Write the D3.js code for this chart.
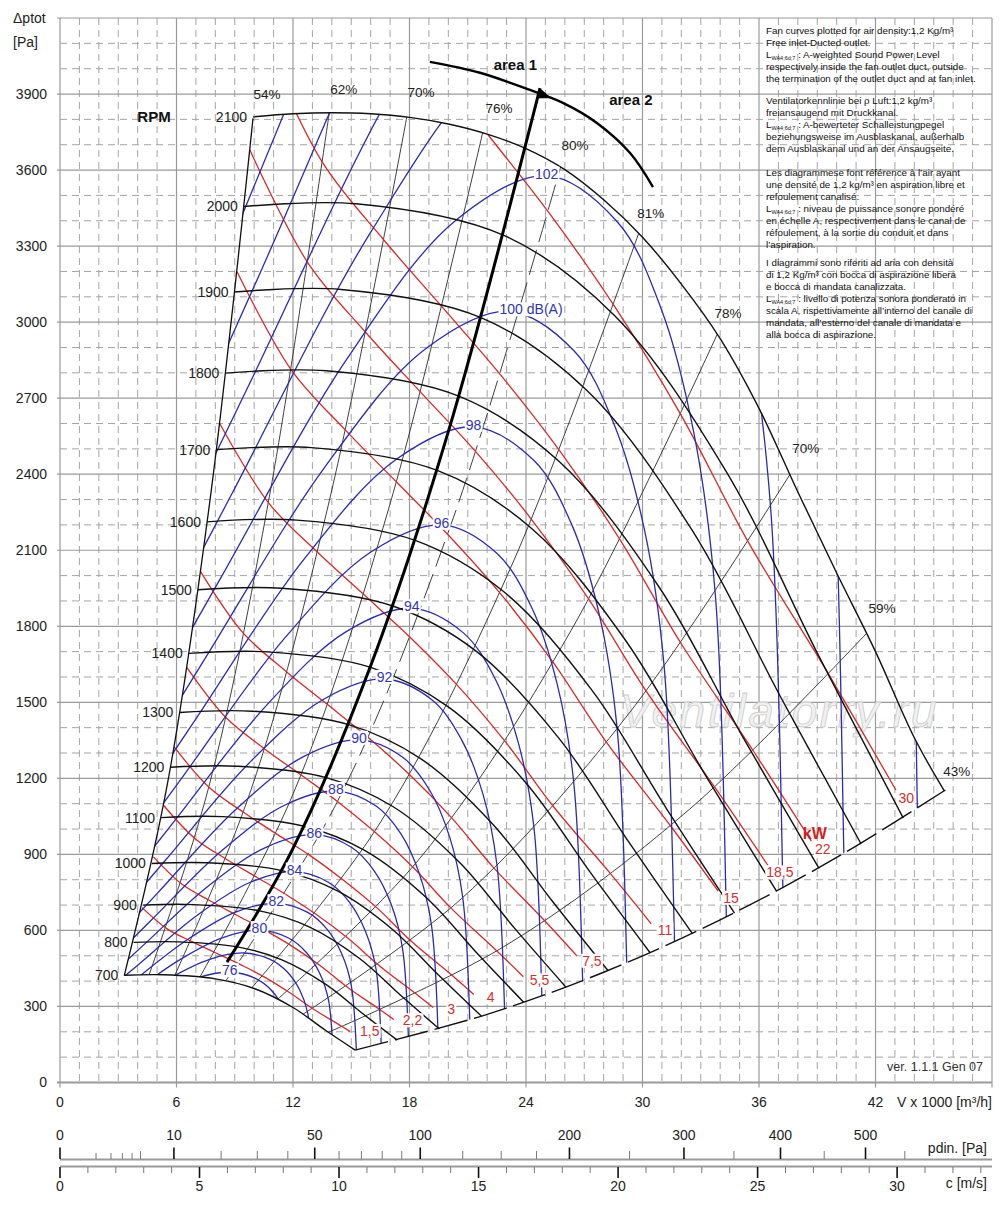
<!DOCTYPE html>
<html>
<head>
<meta charset="utf-8">
<script src="https://cdn.jsdelivr.net/npm/d3@7.9.0/dist/d3.min.js"></script>
<style>
  body { margin: 0; background: #fff; }
  svg text { font-family: "Liberation Sans", Arial, sans-serif; }
</style>
</head>
<body>
<svg id="chart" width="1000" height="1228"></svg>
<script>
// ---- values (V in 1000 m3/h, p in Pa) ----
const xTicks = [0, 6, 12, 18, 24, 30, 36, 42];
const yTicks = [0, 300, 600, 900, 1200, 1500, 1800, 2100, 2400, 2700, 3000, 3300, 3600, 3900];
const pdinMajor = [0, 10, 50, 100, 200, 300, 400, 500];
const pdinMinor = [1, 2, 3, 4, 5, 20, 30, 40, 60, 70, 80, 90, 125, 150, 175, 250, 350, 450, 550];
const cMajor = [0, 5, 10, 15, 20, 25, 30];
const cMinor = [1, 2, 3, 4, 6, 7, 8, 9, 11, 12, 13, 14, 16, 17, 18, 19, 21, 22, 23, 24, 26, 27, 28, 29, 31, 32, 33];

const rpmLabels = [700, 800, 900, 1000, 1100, 1200, 1300, 1400, 1500, 1600, 1700, 1800, 1900, 2000, 2100];
const rpmCurves = [
  [[3.31, 423], [5.33, 425], [8.00, 409], [10.00, 371], [12.00, 296], [13.67, 206], [15.20, 128]],
  [[3.79, 553], [6.10, 555], [9.14, 535], [11.43, 484], [13.71, 386], [15.62, 270], [17.37, 167]],
  [[4.26, 700], [6.86, 702], [10.29, 677], [12.86, 613], [15.43, 489], [17.57, 342], [19.54, 211]],
  [[4.73, 864], [7.62, 867], [11.43, 836], [14.29, 756], [17.14, 603], [19.52, 422], [21.71, 261]],
  [[5.21, 1045], [8.38, 1049], [12.57, 1011], [15.71, 915], [18.86, 730], [21.48, 510], [23.89, 316]],
  [[5.68, 1244], [9.14, 1248], [13.71, 1203], [17.14, 1089], [20.57, 869], [23.43, 607], [26.06, 376]],
  [[6.15, 1460], [9.90, 1465], [14.86, 1412], [18.57, 1278], [22.29, 1019], [25.38, 713], [28.23, 441]],
  [[6.63, 1693], [10.67, 1699], [16.00, 1638], [20.00, 1482], [24.00, 1182], [27.33, 827], [30.40, 511]],
  [[7.10, 1944], [11.43, 1950], [17.14, 1880], [21.43, 1702], [25.71, 1357], [29.29, 949], [32.57, 587]],
  [[7.57, 2212], [12.19, 2219], [18.29, 2139], [22.86, 1936], [27.43, 1544], [31.24, 1080], [34.74, 668]],
  [[8.05, 2497], [12.95, 2505], [19.43, 2415], [24.29, 2186], [29.14, 1743], [33.19, 1219], [36.91, 754]],
  [[8.52, 2799], [13.71, 2808], [20.57, 2707], [25.71, 2450], [30.86, 1954], [35.14, 1367], [39.09, 845]],
  [[8.99, 3119], [14.48, 3129], [21.71, 3017], [27.14, 2730], [32.57, 2177], [37.10, 1523], [41.26, 941]],
  [[9.47, 3456], [15.24, 3467], [22.86, 3342], [28.57, 3025], [34.29, 2413], [39.05, 1687], [43.43, 1043]],
  [[9.94, 3810], [12, 3822], [14, 3826], [16, 3822], [18, 3808], [20, 3782], [22, 3742], [24, 3685], [26, 3602],
   [28, 3483], [30, 3335], [32, 3150], [34, 2935], [36, 2660], [38, 2330], [40, 2010], [42, 1700], [44, 1360], [45.55, 1150]]
];

// efficiency (system) lines, left boundary first, lower boundary last
const effLabels = ['54%', '62%', '70%', '76%', '80%', '81%', '78%', '70%', '59%', '43%'];
const effLabelPos = [[10.66, 3900], [14.62, 3920], [18.59, 3908], [22.61, 3845], [26.52, 3699],
  [30.43, 3430], [34.40, 3036], [38.41, 2503], [42.33, 1872], [46.19, 1229]];
const effLines = [
  [[3.31, 422], [5.50, 1165], [7.70, 2283], [9.94, 3804]],
  [[4.43, 390], [7.62, 1154], [10.80, 2319], [13.99, 3891]],
  [[5.72, 390], [9.83, 1153], [13.94, 2318], [18.05, 3887]],
  [[6.97, 384], [11.98, 1134], [16.99, 2281], [22.00, 3824]],
  [[8.26, 370], [14.19, 1094], [20.12, 2198], [26.06, 3688]],
  [[9.51, 341], [16.34, 1007], [23.17, 2024], [30.01, 3395]],
  [[10.79, 300], [18.55, 886], [26.31, 1782], [34.07, 2989]],
  [[12.03, 245], [20.67, 725], [29.32, 1458], [37.97, 2445]],
  [[13.30, 181], [22.86, 536], [32.42, 1078], [41.98, 1808]],
  [[15.20, 128], [22, 269], [28, 435], [34, 642], [40, 888], [45.6, 1154]]
];

// shaft power lines
const kwLabels = ['1,5', '2,2', '3', '4', '5,5', '7,5', '11', '15', '18,5', '22', '30'];
const kwLines = [
  [[4.23, 690], [5.52, 606], [6.82, 555], [8.04, 511], [9.27, 466], [10.51, 417], [11.78, 357], [13.06, 289], [14.59, 218], [16.11, 144]],
  [[4.81, 890], [6.27, 783], [7.75, 716], [9.13, 659], [10.53, 602], [11.94, 538], [13.39, 462], [14.84, 374], [16.58, 282], [18.31, 186]],
  [[5.33, 1094], [6.96, 962], [8.59, 880], [10.13, 810], [11.67, 740], [13.24, 661], [14.85, 568], [16.46, 460], [18.38, 347], [20.30, 229]],
  [[5.87, 1325], [7.66, 1166], [9.45, 1066], [11.15, 981], [12.85, 897], [14.57, 800], [16.34, 688], [18.11, 556], [20.23, 420], [22.34, 277]],
  [[6.52, 1639], [8.52, 1442], [10.51, 1318], [12.40, 1214], [14.29, 1109], [16.20, 989], [18.17, 850], [20.14, 688], [22.50, 519], [24.85, 343]],
  [[7.24, 2016], [9.44, 1773], [11.66, 1621], [13.75, 1493], [15.84, 1363], [17.97, 1217], [20.15, 1046], [22.34, 847], [24.95, 639], [27.55, 421]],
  [[8.22, 2601], [10.73, 2288], [13.25, 2093], [15.62, 1927], [18.00, 1759], [20.42, 1571], [22.89, 1349], [25.38, 1092], [28.35, 824], [31.31, 544]],
  [[9.12, 3199], [11.90, 2813], [14.69, 2575], [17.32, 2370], [19.96, 2163], [22.64, 1933], [25.39, 1659], [28.14, 1343], [31.43, 1014], [34.71, 669]],
  [[9.78, 3679], [12.76, 3235], [15.75, 2959], [18.57, 2724], [21.41, 2489], [24.28, 2222], [27.22, 1908], [30.18, 1545], [33.71, 1166], [37.23, 769]],
  [[10.36, 4129], [13.51, 3631], [16.69, 3323], [19.68, 3060], [22.68, 2793], [25.72, 2494], [28.84, 2142], [31.97, 1734], [35.71, 1308], [39.44, 863]],
  [[11.49, 5078], [14.99, 4467], [18.51, 4085], [21.82, 3761], [25.15, 3435], [28.52, 3067], [31.98, 2634], [35.45, 2132], [39.60, 1609], [43.74, 1062]]
];

// sound power lines dB(A); peak is the 5th point
const dbLevels = [76, 78, 80, 82, 84, 86, 88, 90, 92, 94, 96, 98, 100, 102, 104, 106, 108, 110];
const dbLabels = ['76', '', '80', '82', '84', '86', '88', '90', '92', '94', '96', '98', '100 dB(A)', '102', '', '', '', ''];
const dbLines = [
  [[1.33, 169], [2.85, 240], [5.15, 347], [7.11, 414], [8.74, 435], [10.01, 413], [10.80, 371], [11.38, 311], [11.76, 235], [11.96, 83], [11.99, 18]],
  [[1.45, 199], [3.09, 282], [5.58, 408], [7.71, 486], [9.47, 511], [10.85, 485], [11.71, 436], [12.34, 366], [12.75, 277], [12.97, 97], [13.00, 21]],
  [[1.57, 234], [3.35, 332], [6.05, 479], [8.36, 571], [10.27, 601], [11.77, 570], [12.69, 513], [13.38, 430], [13.83, 325], [14.06, 114], [14.09, 25]],
  [[1.70, 275], [3.63, 391], [6.57, 564], [9.07, 673], [11.14, 707], [12.76, 671], [13.77, 603], [14.52, 506], [15.00, 383], [15.26, 135], [15.29, 29]],
  [[1.84, 323], [3.94, 459], [7.12, 663], [9.83, 791], [12.08, 832], [13.84, 789], [14.93, 709], [15.74, 595], [16.27, 450], [16.54, 158], [16.58, 34]],
  [[2.00, 380], [4.27, 540], [7.72, 780], [10.66, 930], [13.10, 978], [15.01, 928], [16.19, 834], [17.07, 700], [17.64, 529], [17.94, 186], [17.98, 40]],
  [[2.17, 447], [4.63, 635], [8.37, 917], [11.56, 1094], [14.21, 1150], [16.28, 1091], [17.56, 981], [18.51, 823], [19.13, 622], [19.46, 219], [19.50, 47]],
  [[2.35, 525], [5.02, 747], [9.08, 1079], [12.54, 1286], [15.40, 1352], [17.65, 1283], [19.04, 1153], [20.07, 968], [20.74, 731], [21.10, 257], [21.14, 55]],
  [[2.55, 618], [5.45, 879], [9.85, 1269], [13.60, 1513], [16.71, 1592], [19.15, 1510], [20.65, 1357], [21.78, 1139], [22.50, 861], [22.89, 303], [22.94, 65]],
  [[2.77, 727], [5.91, 1033], [10.68, 1492], [14.74, 1779], [18.12, 1871], [20.76, 1775], [22.39, 1596], [23.61, 1339], [24.40, 1012], [24.81, 356], [24.87, 77]],
  [[3.00, 855], [6.40, 1215], [11.58, 1754], [15.99, 2092], [19.65, 2200], [22.51, 2087], [24.28, 1876], [25.60, 1574], [26.45, 1190], [26.91, 418], [26.96, 90]],
  [[3.25, 1005], [6.94, 1428], [12.55, 2063], [17.34, 2460], [21.30, 2587], [24.41, 2454], [26.33, 2206], [27.76, 1851], [28.69, 1399], [29.18, 492], [29.24, 106]],
  [[3.53, 1182], [7.53, 1680], [13.62, 2426], [18.80, 2893], [23.10, 3042], [26.47, 2887], [28.55, 2594], [30.11, 2177], [31.11, 1646], [31.64, 579], [31.71, 124]],
  [[3.83, 1390], [8.17, 1976], [14.77, 2854], [20.39, 3402], [25.06, 3578], [28.71, 3395], [30.97, 3051], [32.65, 2561], [33.74, 1935], [34.31, 680], [34.39, 146]],
  [[4.15, 1635], [8.86, 2324], [16.02, 3357], [22.11, 4002], [27.18, 4209], [31.14, 3994], [33.59, 3589], [35.41, 3013], [36.59, 2277], [37.22, 800], [37.30, 172]],
  [[4.50, 1923], [9.61, 2733], [17.37, 3948], [23.98, 4707], [29.47, 4950], [33.77, 4697], [36.42, 4221], [38.40, 3543], [39.68, 2677], [40.36, 941], [40.45, 202]],
  [[4.88, 2261], [10.42, 3214], [18.83, 4642], [26.01, 5535], [31.96, 5820], [36.62, 5523], [39.49, 4963], [41.64, 4166], [43.40, 3148], [44.15, 1107], [44.25, 238]],
  [[5.29, 2659], [11.30, 3779], [20.42, 5459], [28.20, 6509], [34.66, 6845], [39.71, 6495], [42.83, 5837], [45.16, 4899], [46.67, 3702], [47.46, 1302], [47.57, 280]]
];

// area 1 / area 2 divider and its arrow arc
const areaDivider = [[8.6, 475], [12, 924], [16, 1644], [20, 2568], [24.72, 3923]];
const areaArc = [[19.05, 4027], [21.63, 3984], [24.2, 3916], [25.9, 3865], [27.65, 3786], [29.35, 3668], [30.54, 3533]];

const notes = [
  ['Fan curves plotted for air density:1,2 Kg/m³', 'Free inlet-Ducted outlet.', '§ : A-weighted Sound Power Level',
   'respectively inside the fan outlet duct, outside', 'the termination of the outlet duct and at fan inlet.'],
  ['Ventilatorkennlinie bei ρ Luft:1,2 kg/m³', 'freiansaugend mit Druckkanal.', '§ : A-bewerteter Schalleistungpegel',
   'beziehungsweise im Ausblaskanal, außerhalb', 'dem Ausblaskanal und an der Ansaugseite.'],
  ['Les diagrammese font référence à l’air ayant', 'une densité de 1,2 kg/m³ en aspiration libre et', 'refoulement canalisé.',
   '§ : niveau de puissance sonore pondéré', 'en échelle A, respectivement dans le canal de',
   'réfoulement, à la sortie du conduit et dans', 'l’aspiration.'],
  ['I diagrammi sono riferiti ad aria con densità', 'di 1,2 Kg/m³ con bocca di aspirazione libera', 'e bocca di mandata canalizzata.',
   '§ : livello di potenza sonora ponderato in', 'scala A, rispettivamente all’interno del canale di',
   'mandata, all’esterno del canale di mandata e', 'alla bocca di aspirazione.']
];
const noteTops = [30, 100, 172, 262];

// ---- scales ----
const x = d3.scaleLinear().domain([0, 48]).range([60, 992]);
const y = d3.scaleLinear().domain([0, 4200]).range([1082.5, 18]);
const cScale = d3.scaleLinear().domain([0, 33.4]).range([60, 992]);
const pdinScale = d3.scaleSqrt().domain([0, 0.6 * 33.4 * 33.4]).range([60, 992]);

const svg = d3.select('#chart');
const line = d3.line().x(d => x(d[0])).y(d => y(d[1])).curve(d3.curveCatmullRom.alpha(0.5));

// ---- grid ----
const grid = svg.append('g');
d3.range(0, 49).forEach(v => {
  const major = v % 6 === 0;
  grid.append('line')
    .attr('x1', x(v)).attr('x2', x(v))
    .attr('y1', y(4200)).attr('y2', major ? y(0) + 5 : y(0))
    .attr('stroke', major ? '#9a9a9a' : '#a4a4a4')
    .attr('stroke-width', major ? 1.2 : 1)
    .attr('stroke-dasharray', major ? null : '7,5');
});
d3.range(0, 4201, 100).forEach(v => {
  const major = v % 300 === 0 || v === 4200;
  grid.append('line')
    .attr('x1', major ? x(0) - 3 : x(0)).attr('x2', x(48))
    .attr('y1', y(v)).attr('y2', y(v))
    .attr('stroke', major ? '#9a9a9a' : '#a4a4a4')
    .attr('stroke-width', v === 0 ? 2 : (major ? 1.2 : 1))
    .attr('stroke-dasharray', major ? null : '7,5');
});

// axis labels
const axisText = svg.append('g').attr('font-size', 14).attr('fill', '#222');
yTicks.forEach(v => {
  axisText.append('text').attr('x', 47).attr('y', y(v)).attr('dy', '0.35em')
    .attr('text-anchor', 'end').text(v);
});
xTicks.forEach(v => {
  axisText.append('text').attr('x', x(v)).attr('y', 1107).attr('text-anchor', 'middle').text(v);
});
axisText.append('text').attr('x', 992).attr('y', 1107).attr('text-anchor', 'end').text('V x 1000 [m³/h]');
axisText.append('text').attr('x', 13).attr('y', 23).text('Δptot');
axisText.append('text').attr('x', 13).attr('y', 47).text('[Pa]');

// pdin and velocity scales
const bottom = svg.append('g');
bottom.append('line').attr('x1', 60).attr('x2', 992).attr('y1', 1159.5).attr('y2', 1159.5)
  .attr('stroke', '#9a9a9a').attr('stroke-width', 2);
bottom.append('line').attr('x1', 60).attr('x2', 992).attr('y1', 1166.5).attr('y2', 1166.5)
  .attr('stroke', '#9a9a9a').attr('stroke-width', 2);
pdinMinor.forEach(v => {
  bottom.append('line').attr('x1', pdinScale(v)).attr('x2', pdinScale(v))
    .attr('y1', v < 5 ? 1153 : 1151).attr('y2', 1159).attr('stroke', '#777').attr('stroke-width', 1);
});
pdinMajor.forEach(v => {
  bottom.append('line').attr('x1', pdinScale(v)).attr('x2', pdinScale(v))
    .attr('y1', 1147.5).attr('y2', 1159).attr('stroke', '#111').attr('stroke-width', 1.6);
  bottom.append('text').attr('x', pdinScale(v)).attr('y', 1140).attr('text-anchor', 'middle')
    .attr('font-size', 14).attr('fill', '#222').text(v);
});
cMinor.forEach(v => {
  bottom.append('line').attr('x1', cScale(v)).attr('x2', cScale(v))
    .attr('y1', 1167).attr('y2', 1173).attr('stroke', '#777').attr('stroke-width', 1);
});
cMajor.forEach(v => {
  bottom.append('line').attr('x1', cScale(v)).attr('x2', cScale(v))
    .attr('y1', 1167).attr('y2', 1178).attr('stroke', '#111').attr('stroke-width', 1.6);
  bottom.append('text').attr('x', cScale(v)).attr('y', 1191).attr('text-anchor', 'middle')
    .attr('font-size', 14).attr('fill', '#222').text(v);
});
bottom.append('text').attr('x', 987).attr('y', 1153).attr('text-anchor', 'end')
  .attr('font-size', 14).attr('fill', '#222').text('pdin. [Pa]');
bottom.append('text').attr('x', 987).attr('y', 1188).attr('text-anchor', 'end')
  .attr('font-size', 14).attr('fill', '#222').text('c [m/s]');

// ---- notes block ----
const notesG = svg.append('g').attr('font-size', 9.8).attr('fill', '#111');
notes.forEach((para, pi) => {
  para.forEach((txt, li) => {
    const t = notesG.append('text').attr('x', 766).attr('y', noteTops[pi] + 3.5 + li * 12);
    if (txt.startsWith('§')) {
      t.append('tspan').text('L');
      t.append('tspan').attr('font-size', 5.5).attr('dy', 2).text('WA4;6d;7');
      t.append('tspan').attr('dy', -2).text(txt.slice(1));
    } else {
      t.text(txt);
    }
  });
});
svg.append('text').attr('x', 983).attr('y', 1071).attr('text-anchor', 'end')
  .attr('font-size', 12.5).attr('fill', '#333').text('ver. 1.1.1 Gen 07');

// watermark
svg.append('text').attr('x', 620).attr('y', 727).attr('font-size', 46).attr('font-style', 'italic')
  .attr('letter-spacing', 2.5).attr('fill', '#f1f1f1').attr('stroke', '#cfcfcf').attr('stroke-width', 0.9)
  .text('Ventilatorry.ru');

// ---- fan region clip ----
const lowerBoundary = effLines[effLines.length - 1];
const leftBoundary = effLines[0];
const regionD = line(leftBoundary)
  + line(rpmCurves[rpmCurves.length - 1]).replace(/^M/, 'L')
  + line(lowerBoundary.slice().reverse()).replace(/^M/, 'L')
  + line(rpmCurves[0].slice().reverse()).replace(/^M/, 'L') + 'Z';
svg.append('defs').append('clipPath').attr('id', 'fan').append('path').attr('d', regionD);

// efficiency lines
const effG = svg.append('g').attr('clip-path', 'url(#fan)').attr('fill', 'none');
effLines.slice(1, -1).forEach((pts, i) => {
  effG.append('path').attr('d', line(pts))
    .attr('stroke', '#2a2a2a').attr('stroke-width', 0.9)
    .attr('stroke-dasharray', i === 3 ? '26,8' : null);
});

// power lines
const red = '#d42a2a';
const kwG = svg.append('g').attr('clip-path', 'url(#fan)').attr('fill', 'none');
kwLines.forEach(pts => {
  const p = kwG.append('path').attr('d', line(pts)).attr('stroke', red).attr('stroke-width', 1.3);
  const len = p.node().getTotalLength();
  p.attr('stroke-dasharray', `${len - 27},${len}`);
});

// sound lines
const blue = '#2b2bb0';
const dbG = svg.append('g').attr('clip-path', 'url(#fan)').attr('fill', 'none');
dbLines.forEach(pts => {
  dbG.append('path').attr('d', line(pts)).attr('stroke', blue).attr('stroke-width', 1.3);
});

// rpm curves and boundaries
const rpmG = svg.append('g').attr('fill', 'none');
rpmCurves.forEach(pts => {
  rpmG.append('path').attr('d', line(pts)).attr('stroke', '#111').attr('stroke-width', 1.4);
});
rpmG.append('path').attr('d', line(leftBoundary)).attr('stroke', '#111').attr('stroke-width', 1.3);
rpmG.append('path').attr('d', line(lowerBoundary)).attr('stroke', '#111').attr('stroke-width', 1.4)
  .attr('stroke-dasharray', '34,7');

// area divider
svg.append('path').attr('d', line(areaDivider)).attr('fill', 'none').attr('stroke', '#000').attr('stroke-width', 3);
svg.append('path').attr('d', line(areaArc)).attr('fill', 'none').attr('stroke', '#000').attr('stroke-width', 2.4);
{
  const a = areaArc[2], b = areaArc[3];
  const ax = x(a[0]) + 0.45 * (x(b[0]) - x(a[0])), ay = y(a[1]) + 0.45 * (y(b[1]) - y(a[1]));
  const ang = Math.atan2(y(b[1]) - y(a[1]), x(b[0]) - x(a[0])) * 180 / Math.PI;
  svg.append('path').attr('d', 'M7,0 L-6,-5 L-6,5 Z').attr('fill', '#000')
    .attr('transform', `translate(${ax},${ay}) rotate(${ang})`);
}
svg.append('text').attr('x', x(23.45)).attr('y', y(3995)).attr('text-anchor', 'middle')
  .attr('font-size', 15).attr('font-weight', 'bold').attr('fill', '#111').text('area 1');
svg.append('text').attr('x', x(29.4)).attr('y', y(3855)).attr('text-anchor', 'middle')
  .attr('font-size', 15).attr('font-weight', 'bold').attr('fill', '#111').text('area 2');
svg.append('text').attr('x', x(4.84)).attr('y', y(3809)).attr('dy', '0.35em').attr('text-anchor', 'middle')
  .attr('font-size', 15).attr('font-weight', 'bold').attr('fill', '#111').text('RPM');

// ---- labels ----
const labG = svg.append('g').attr('font-size', 14);
rpmCurves.forEach((pts, i) => {
  labG.append('text').attr('x', x(pts[0][0]) - 6).attr('y', y(pts[0][1])).attr('dy', '0.35em')
    .attr('text-anchor', 'end').attr('fill', '#222').text(rpmLabels[i]);
});
effLabels.forEach((t, i) => {
  labG.append('text').attr('x', x(effLabelPos[i][0])).attr('y', y(effLabelPos[i][1])).attr('dy', '0.35em')
    .attr('text-anchor', 'middle').attr('font-size', 13.5).attr('fill', '#222').text(t);
});

function boxed(g, tx, ty, anchor, txt, color) {
  const grp = g.append('g');
  const rect = grp.append('rect').attr('fill', '#fff');
  const t = grp.append('text').attr('x', tx).attr('y', ty).attr('dy', '0.35em')
    .attr('text-anchor', anchor).attr('fill', color).text(txt);
  const bb = t.node().getBBox();
  rect.attr('x', bb.x - 1).attr('y', bb.y + 1).attr('width', bb.width + 2).attr('height', bb.height - 2);
}
dbLines.forEach((pts, i) => {
  if (!dbLabels[i]) return;
  const pk = pts[4];
  const wide = dbLabels[i].length > 3;
  boxed(labG, x(pk[0]) + (wide ? -9 : 0), y(pk[1]) - 2, wide ? 'start' : 'middle', dbLabels[i], '#3434b8');
});
kwLines.forEach((pts, i) => {
  const e = pts[pts.length - 1];
  boxed(labG, x(e[0]) - 3, y(e[1]) - 15, 'middle', kwLabels[i], '#d03030');
});
{
  const e = kwLines[9][kwLines[9].length - 1];
  labG.append('text').attr('x', x(e[0]) - 11).attr('y', y(e[1]) - 30).attr('dy', '0.35em')
    .attr('text-anchor', 'middle').attr('font-size', 16).attr('font-weight', 'bold').attr('fill', '#d42020').text('kW');
}
</script>
</body>
</html>
